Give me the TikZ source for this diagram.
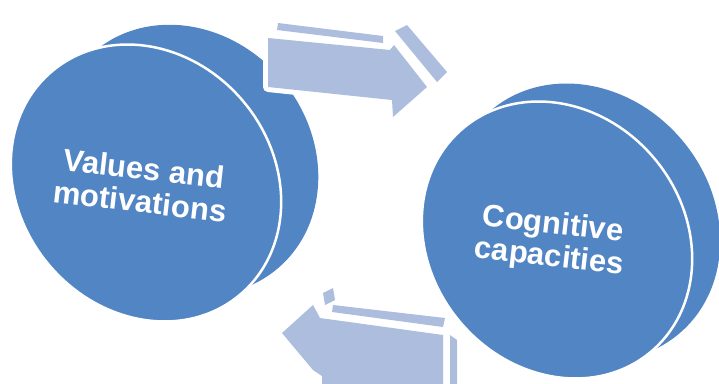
\documentclass[tikz,border=0pt]{standalone}
\usepackage{fontspec}
\setsansfont{Liberation Sans}
\usetikzlibrary{shapes.geometric}

\definecolor{discblue}{RGB}{82,133,195}
\definecolor{arrowblue}{RGB}{172,189,222}

\begin{document}
\begin{tikzpicture}[x=1pt,y=-1pt,
		disc/.style={ellipse, fill=discblue, minimum width=292pt, minimum height=254pt, inner sep=0pt, rotate=-50},
		face/.style={disc, draw=white, line width=2.5pt},
		caption/.style={text=white, align=center, rotate=-6.5, inner sep=0pt,
			font=\sffamily\bfseries\fontsize{31}{33}\selectfont},
		block/.style={fill=arrowblue, preaction={draw=white, line width=10pt, line join=round}},
		rim/.style={fill=arrowblue}]
		\useasboundingbox (0,0) rectangle (719,383);
		\clip (0,0) rectangle (719,383);

		\draw (186,160) node [disc, minimum width=284pt, minimum height=250pt] (valuesback) {};
		\draw (146,183) node [face] (values) {};
		\draw (142,185) node [caption] (valueslabel) {Values and\\motivations};

		\fill [block] (268,38) -- (390,50) -- (394,45) -- (427,87) -- (393,117) -- (392,100) -- (268,87) -- cycle;
		\fill [rim] (278,23) -- (383,36) -- (383,43) -- (277,30) -- cycle;
		\fill [rim] (395,31) -- (407,25) -- (447,72) -- (437,82) -- cycle;

		\draw (585,222) node [disc] (cognitiveback) {};
		\draw (557,240) node [face] (cognitive) {};
		\draw (551,242) node [caption] (cognitivelabel) {Cognitive\\capacities};

		\fill [block] (282,333) -- (313,305) -- (320,318) -- (443,335) -- (443,400) -- (322,400) -- (322,376) -- (313,370) -- cycle;
		\fill [rim] (333,305) -- (445,318) -- (443,327) -- (332,312) -- cycle;
		\fill [rim] (323,293) -- (333,288) -- (335,300) -- (325,305) -- cycle;
		\fill [rim] (450,335) -- (457,340) -- (457,400) -- (450,400) -- cycle;
		\fill [rim] (323,377) -- (332,383) -- (332,400) -- (323,400) -- cycle;
	\end{tikzpicture}
\end{document}
